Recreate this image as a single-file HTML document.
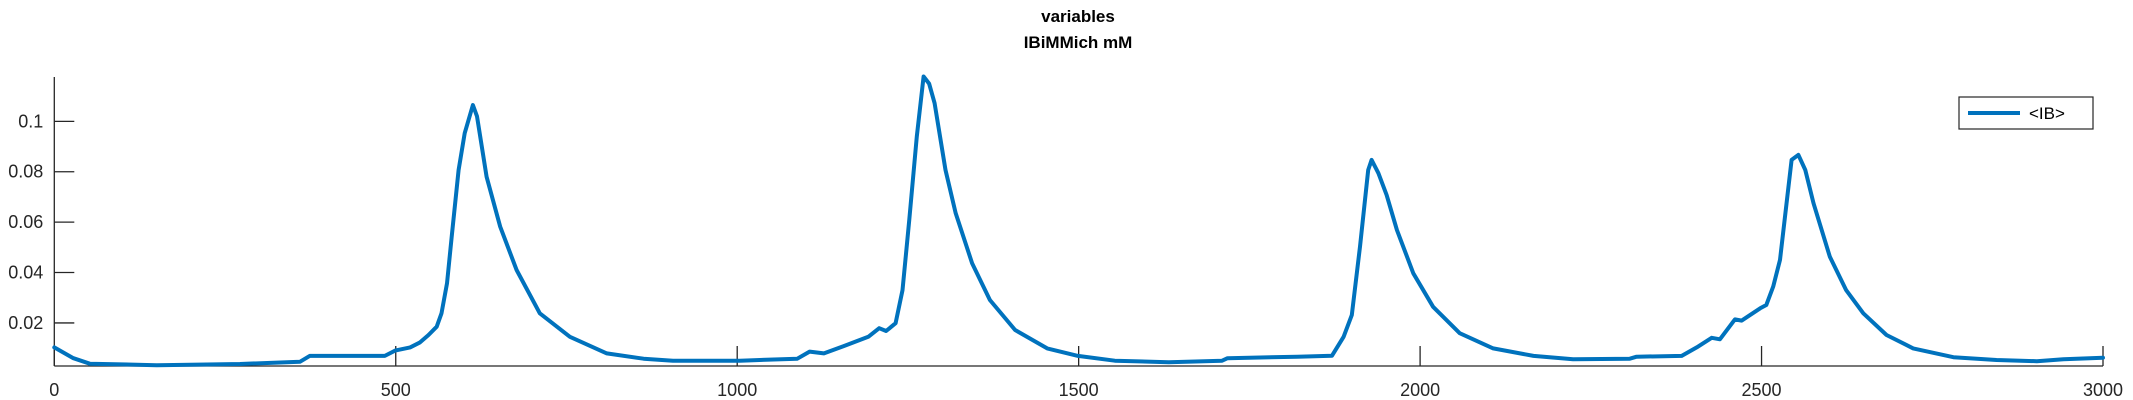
<!DOCTYPE html>
<html><head><meta charset="utf-8"><style>
html,body{margin:0;padding:0;background:#fff;}
svg{display:block;font-family:"Liberation Sans",sans-serif;}
</style></head><body>
<svg id="chart" width="2133" height="400" viewBox="0 0 2133 400">
<text x="1078" y="22" text-anchor="middle" font-size="17" font-weight="bold" fill="#000">variables</text>
<text x="1078" y="48" text-anchor="middle" font-size="17" font-weight="bold" fill="#000">IBiMMich mM</text>
<g id="axes"></g>
<path id="series" fill="none" stroke="#0072BD" stroke-width="4" stroke-linejoin="round" stroke-linecap="round"></path>
<g>
<rect x="1959" y="97" width="134" height="32" fill="#fff" stroke="#262626" stroke-width="1.2"/>
<line x1="1968" y1="113" x2="2020" y2="113" stroke="#0072BD" stroke-width="4"/>
<text x="2029" y="119" font-size="17" fill="#000">&lt;IB&gt;</text>
</g>
</svg>
<script>
const times=[0,28,52,150,272,360,374,448,484,499,521,535,548,560,567,575,582,592,601,613,619,633,653,677,711,755,809,863,906,1004,1088,1106,1127,1156,1192,1208,1218,1232,1242,1252,1263,1273,1281,1289,1305,1320,1344,1370,1407,1454,1499,1553,1632,1710,1718,1820,1871,1888,1900,1912,1924,1929,1939,1951,1966,1990,2019,2058,2107,2166,2224,2307,2317,2383,2405,2427,2439,2461,2471,2498,2507,2517,2527,2534,2544,2554,2564,2576,2600,2624,2649,2683,2722,2781,2844,2903,2942,3000];
const values=[0.0103,0.006,0.0038,0.0032,0.0037,0.0046,0.0069,0.0069,0.0069,0.009,0.0103,0.0122,0.0152,0.0185,0.0238,0.0357,0.0542,0.0807,0.0953,0.1065,0.102,0.078,0.0582,0.041,0.0238,0.0145,0.0079,0.0058,0.005,0.005,0.0058,0.0086,0.0079,0.0108,0.0145,0.0179,0.0168,0.0199,0.033,0.061,0.094,0.1178,0.115,0.1072,0.0807,0.0635,0.0437,0.0291,0.0172,0.0099,0.0069,0.005,0.0044,0.005,0.006,0.0066,0.007,0.0145,0.0231,0.0503,0.0807,0.0847,0.0794,0.0708,0.0569,0.0397,0.0264,0.0159,0.0099,0.0069,0.0056,0.0058,0.0066,0.0069,0.0103,0.0141,0.0135,0.0214,0.0209,0.0258,0.0271,0.0344,0.045,0.0615,0.0847,0.0867,0.0807,0.0675,0.0463,0.033,0.0238,0.0152,0.0099,0.0064,0.0053,0.0048,0.0056,0.0062];
const xTicks=[0,500,1000,1500,2000,2500,3000];
const yTicks=[0.02,0.04,0.06,0.08,0.1];
const yTickLabels=["0.02","0.04","0.06","0.08","0.1"];
const X0=54.3,X1=2103,Y0=366,Y1=77,xMin=0,xMax=3000,yMin=0.0029,yMax=0.1176;
function sx(t){return X0+(t-xMin)/(xMax-xMin)*(X1-X0);}
function sy(v){return Y0-(v-yMin)/(yMax-yMin)*(Y0-Y1);}
const NS="http://www.w3.org/2000/svg";
const ax=document.getElementById('axes');
function mk(tag,attrs){const e=document.createElementNS(NS,tag);for(const k in attrs)e.setAttribute(k,attrs[k]);ax.appendChild(e);return e;}
let e=mk('line',{x1:X0,y1:Y1,x2:X0,y2:Y0,stroke:'#262626','stroke-width':1.3});


e=mk('line',{x1:X0,y1:Y0,x2:X1,y2:Y0,stroke:'#262626','stroke-width':1.3});


xTicks.forEach(t=>{
 const x=sx(t);
 let l=mk('line',{x1:x,y1:Y0,x2:x,y2:Y0-20,stroke:'#262626','stroke-width':1.3});
 
 
 let tx=mk('text',{x:x,y:Y0+30,'text-anchor':'middle','font-size':18,fill:'#262626'});
 tx.textContent=String(t);
 
 
});
yTicks.forEach((v,i)=>{
 const y=sy(v);
 let l=mk('line',{x1:X0,y1:y,x2:X0+20,y2:y,stroke:'#262626','stroke-width':1.3});
 
 
 let tx=mk('text',{x:X0-11,y:y+6,'text-anchor':'end','font-size':18,fill:'#262626'});
 tx.textContent=yTickLabels[i];
 
 
});
document.getElementById('series').setAttribute('d',times.map((t,i)=>(i?'L':'M')+sx(t).toFixed(1)+' '+sy(values[i]).toFixed(1)).join(' '));
</script>
</body></html>
